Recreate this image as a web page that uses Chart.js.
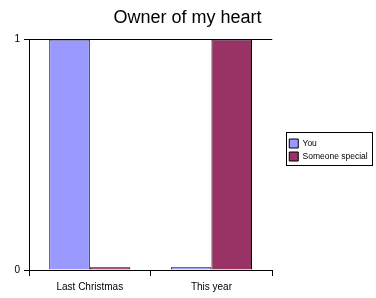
<!DOCTYPE html>
<html>
<head>
<meta charset="utf-8">
<script src="https://cdn.jsdelivr.net/npm/chart.js@4/dist/chart.umd.min.js"></script>
<style>
  html, body { margin: 0; padding: 0; background: #fff; }
  #wrap { width: 376px; height: 298px; }
</style>
</head>
<body>
<div id="wrap"><canvas id="heartChart"></canvas></div>
<script>
const categories = ["Last Christmas", "This year"];
const youValues = [1, 0.012];
const specialValues = [0.012, 1];
const yTicks = [0, 1];

const FONT = "'Liberation Sans', Arial, sans-serif";

// nudge legend + title to where the old chart had them, frame the legend
const legendBorder = {
  id: 'legendBorder',
  afterUpdate(chart) {
    const l = chart.legend;
    const dx = 13, dy = 1;
    l.left += dx; l.right += dx;
    l.top += dy; l.bottom += dy;
    l.legendHitBoxes.forEach(hb => { hb.left += dx; hb.top += dy; });
    const t = chart.titleBlock;
    if (t) { t.left += 6; t.right += 6; }
  },
  afterDraw(chart) {
    const boxes = chart.legend.legendHitBoxes;
    if (!boxes || !boxes.length) return;
    const first = boxes[0], last = boxes[boxes.length - 1];
    const left = Math.round(first.left) - 3;
    const top = Math.round(first.top) - 7;
    const right = left + 86;
    const bottom = Math.round(last.top + last.height) + 4;
    const ctx = chart.ctx;
    ctx.save();
    ctx.strokeStyle = '#000';
    ctx.lineWidth = 1;
    ctx.strokeRect(left + 0.5, top + 0.5, right - left, bottom - top);
    ctx.restore();
  }
};

new Chart(document.getElementById('heartChart').getContext('2d'), {
  type: 'bar',
  data: {
    labels: categories,
    datasets: [
      { label: 'You', data: youValues, backgroundColor: '#9999FF', borderColor: '#000', borderWidth: 1 },
      { label: 'Someone special', data: specialValues, backgroundColor: '#993366', borderColor: '#000', borderWidth: 1 }
    ]
  },
  options: {
    responsive: true,
    maintainAspectRatio: false,
    animation: false,
    layout: { padding: { left: 0, right: 13, top: 0, bottom: 0 } },
    datasets: { bar: { barPercentage: 1, categoryPercentage: 0.667 } },
    plugins: {
      title: {
        display: true, text: 'Owner of my heart', color: '#000',
        font: { family: FONT, size: 18, weight: 'normal' },
        padding: { top: 7, bottom: 11 }
      },
      legend: {
        position: 'right',
        labels: { color: '#000', font: { family: FONT, size: 8.5 }, boxWidth: 9, boxHeight: 9, padding: 4 }
      },
      tooltip: { enabled: false }
    },
    scales: {
      x: {
        grid: { offset: true, drawOnChartArea: false, color: '#000', tickLength: 6 },
        border: { color: '#000' },
        ticks: { color: '#000', font: { family: FONT, size: 10 }, padding: 5, maxRotation: 0 }
      },
      y: {
        min: 0, max: 1,
        afterBuildTicks: s => { s.ticks = yTicks.map(v => ({ value: v })); },
        afterFit: s => { s.width = 29; },
        grid: { color: '#000', tickLength: 5 },
        border: { color: '#000' },
        ticks: { color: '#000', font: { family: FONT, size: 10 }, padding: 4 }
      }
    }
  },
  plugins: [legendBorder]
});
</script>
</body>
</html>
